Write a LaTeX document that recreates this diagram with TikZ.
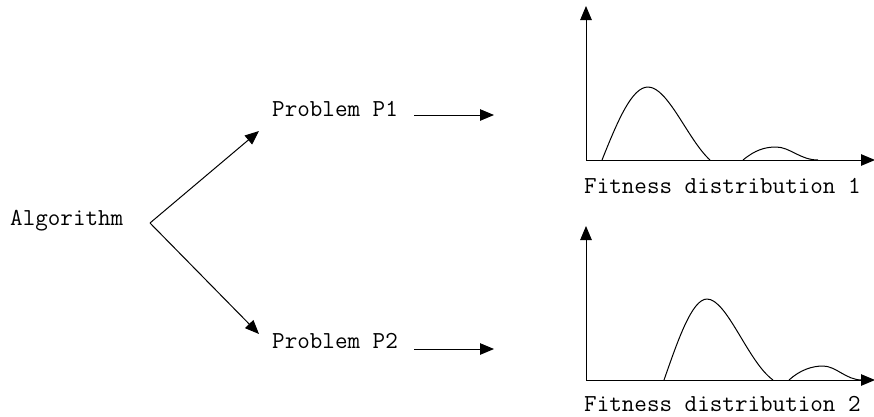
\documentclass[tikz,border=0pt]{standalone}
\usetikzlibrary{arrows.meta}
\begin{document}
\begin{tikzpicture}[x=1pt,y=-1pt,
  lbl/.style={font=\ttfamily\fontsize{24.4}{26}\selectfont, inner sep=0pt, anchor=base west},
  arr/.style={-{Triangle[length=14pt,width=11.5pt]}, line width=1pt},
  crv/.style={line width=1pt}]
\useasboundingbox (0,0) rectangle (874,416);
% labels
\node[lbl] (alg) at (10,225) {Algorithm};
\node[lbl] (p1) at (272,116) {Problem P1};
\node[lbl] (p2) at (272,348) {Problem P2};
\node[lbl] (c1) at (584,193) {Fitness distribution 1};
\node[lbl] (c2) at (584,411) {Fitness distribution 2};
% coordinates
\coordinate (fork) at (150,223);
\coordinate (t1) at (259,131);
\coordinate (t2) at (259,334);
\coordinate (a1s) at (414,115);
\coordinate (a1e) at (494,115);
\coordinate (a2s) at (414,349);
\coordinate (a2e) at (494,349);
\draw[arr] (fork) -- (t1);
\draw[arr] (fork) -- (t2);
\draw[arr] (a1s) -- (a1e);
\draw[arr] (a2s) -- (a2e);
% chart 1
\coordinate (o1) at (586,160);
\coordinate (y1) at (586,6);
\coordinate (x1) at (875,160);
\draw[arr] (o1) -- (y1);
\draw[arr] (o1) -- (x1);
\draw[crv] (602,160) .. controls (618,120) and (632,87) .. (648,87)
  .. controls (668,87) and (688,140) .. (710,160);
\draw[crv] (743,160) .. controls (755,150) and (765,147) .. (776,147)
  .. controls (790,147) and (800,160) .. (818,160);
% chart 2
\coordinate (o2) at (586,380);
\coordinate (y2) at (586,226);
\coordinate (x2) at (875,380);
\draw[arr] (o2) -- (y2);
\draw[arr] (o2) -- (x2);
\draw[crv] (664,380) .. controls (678,340) and (692,299) .. (707,299)
  .. controls (727,299) and (748,362) .. (773,380);
\draw[crv] (789,380) .. controls (800,370) and (812,366) .. (823,366)
  .. controls (836,366) and (846,380) .. (862,380);
\end{tikzpicture}
\end{document}
